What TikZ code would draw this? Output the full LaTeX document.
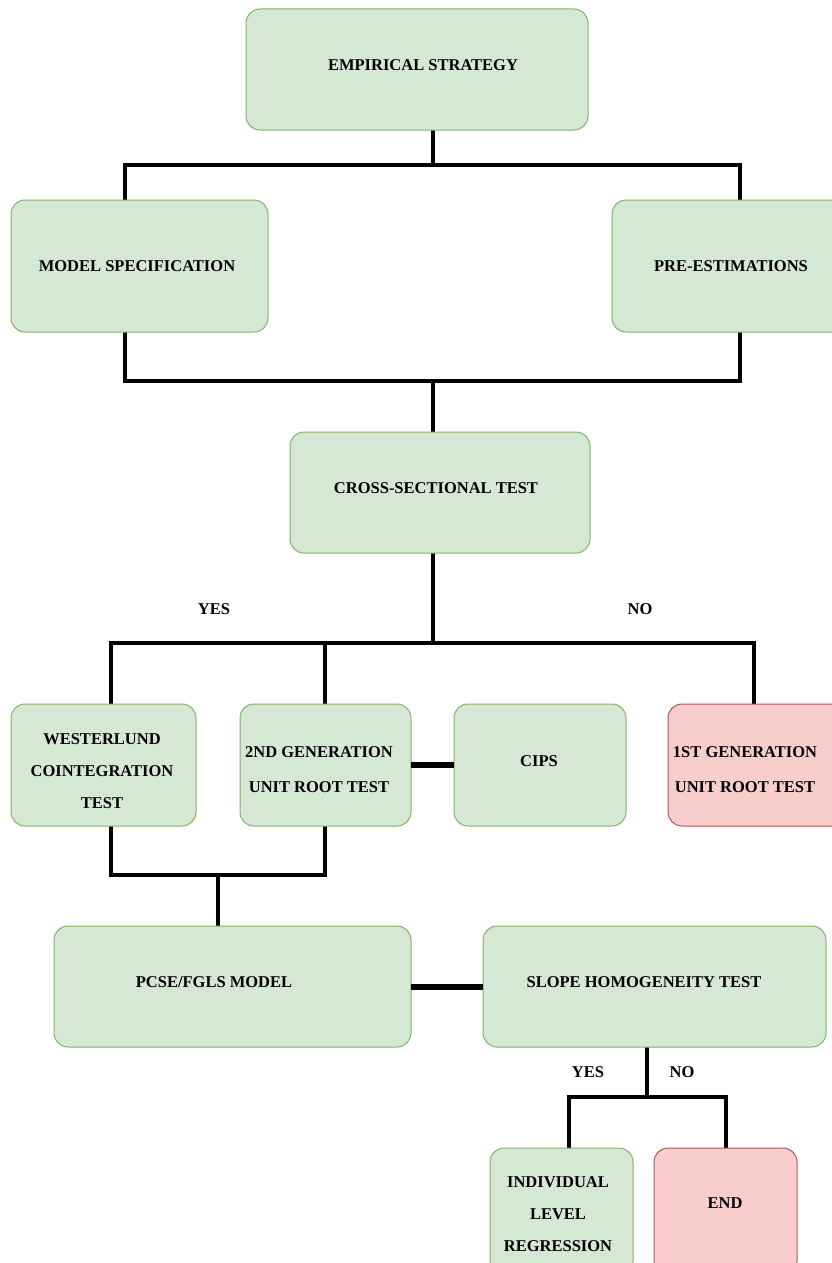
\documentclass[tikz,border=0pt]{standalone}
\usepackage{fontspec}
\setmainfont{Liberation Serif}
\definecolor{gfill}{HTML}{D5E8D4}
\definecolor{gdraw}{HTML}{82B366}
\definecolor{rfill}{HTML}{F8CECC}
\definecolor{rdraw}{HTML}{B85450}
\tikzset{
  box/.style={rectangle, rounded corners=14pt, inner sep=0pt, outer sep=0pt, line width=1pt},
  gbox/.style={box, fill=gfill, draw=gdraw},
  rbox/.style={box, fill=rfill, draw=rdraw},
  lbl/.style={inner sep=0pt, align=center, font=\fontsize{16.5}{32}\selectfont\bfseries},
  lbltwo/.style={lbl, font=\fontsize{16.5}{35}\selectfont\bfseries},
  conn/.style={line width=4pt, line cap=rect, line join=miter},
  sideconn/.style={line width=5.5pt}
}
\newcommand{\boxat}[6]{% style, name, x1, y1, x2, y2
  \node[#1, minimum width={(#5-#3)*1pt}, minimum height={(#6-#4)*1pt}] (#2) at ({(#3+#5)/2},{(#4+#6)/2}) {};}
\begin{document}
\begin{tikzpicture}[x=1pt,y=-1pt]
\useasboundingbox[fill=white] (0,0) rectangle (832,1263);
\clip (0,0) rectangle (832,1263);
% junction coordinates
\coordinate (c1) at (433,165);
\coordinate (a1) at (125,165);
\coordinate (a2) at (740,165);
\coordinate (b1) at (125,381);
\coordinate (b2) at (740,381);
\coordinate (c2) at (433,381);
\coordinate (d0) at (433,643);
\coordinate (d1) at (111,643);
\coordinate (d2) at (325,643);
\coordinate (d3) at (754,643);
\coordinate (e1) at (111,875);
\coordinate (e2) at (325,875);
\coordinate (e0) at (218,875);
\coordinate (f0) at (647,1097);
\coordinate (f1) at (569,1097);
\coordinate (f2) at (726,1097);
% connectors
\draw[conn] (c1) -- (a1) -- (a1 |- 0,200);
\draw[conn] (c1) -- (a2) -- (a2 |- 0,200);
\draw[conn] (c1) -- (c1 |- 0,130);
\draw[conn] (b1 |- 0,332) -- (b1) -- (b2) -- (b2 |- 0,332);
\draw[conn] (c2) -- (c2 |- 0,432);
\draw[conn] (d0 |- 0,553) -- (d0);
\draw[conn] (d1 |- 0,704) -- (d1) -- (d3) -- (d3 |- 0,704);
\draw[conn] (d2) -- (d2 |- 0,704);
\draw[conn] (e1 |- 0,826) -- (e1) -- (e2) -- (e2 |- 0,826);
\draw[conn] (e0) -- (e0 |- 0,926);
\draw[conn] (f0 |- 0,1047) -- (f0);
\draw[conn] (f1 |- 0,1148) -- (f1) -- (f2) -- (f2 |- 0,1148);
% boxes
\boxat{gbox}{emp}{246}{9}{588}{130}
\boxat{gbox}{model}{11}{200}{268}{332}
\boxat{gbox}{pre}{612}{200}{860}{332}
\boxat{gbox}{cross}{290}{432}{590}{553}
\boxat{gbox}{west}{11}{704}{196}{826}
\boxat{gbox}{gen2}{240}{704}{411}{826}
\boxat{gbox}{cips}{454}{704}{626}{826}
\boxat{rbox}{gen1}{668}{704}{860}{826}
\boxat{gbox}{pcse}{54}{926}{411}{1047}
\boxat{gbox}{slope}{483}{926}{826}{1047}
\boxat{gbox}{indiv}{490}{1148}{633}{1275}
\boxat{rbox}{endb}{654}{1148}{797}{1275}
% side connectors
\draw[sideconn] (gen2.east |- 0,765) -- (cips.west |- 0,765);
\draw[sideconn] (pcse.east |- 0,987) -- (slope.west |- 0,987);
% labels
\node[lbl] (tEmp) at (423,65) {EMPIRICAL STRATEGY};
\node[lbl] (tModel) at (137,266) {MODEL SPECIFICATION};
\node[lbl] (tPre) at (731,266) {PRE-ESTIMATIONS};
\node[lbl] (tCross) at (436,488) {CROSS-SECTIONAL TEST};
\node[lbl] (tYes1) at (214,609) {YES};
\node[lbl] (tNo1) at (640,609) {NO};
\node[lbl] (tWest) at (102,771) {WESTERLUND\\COINTEGRATION\\TEST};
\node[lbltwo] (tGen2) at (319,770) {2ND GENERATION\\UNIT ROOT TEST};
\node[lbl] (tCips) at (539,761) {CIPS};
\node[lbltwo] (tGen1) at (745,770) {1ST GENERATION\\UNIT ROOT TEST};
\node[lbl] (tPcse) at (214,982) {PCSE/FGLS MODEL};
\node[lbl] (tSlope) at (644,982) {SLOPE HOMOGENEITY TEST};
\node[lbl] (tYes2) at (588,1072) {YES};
\node[lbl] (tNo2) at (682,1072) {NO};
\node[lbl] (tIndiv) at (558,1214) {INDIVIDUAL\\LEVEL\\REGRESSION};
\node[lbl] (tEnd) at (725,1203) {END};
\end{tikzpicture}
\end{document}
